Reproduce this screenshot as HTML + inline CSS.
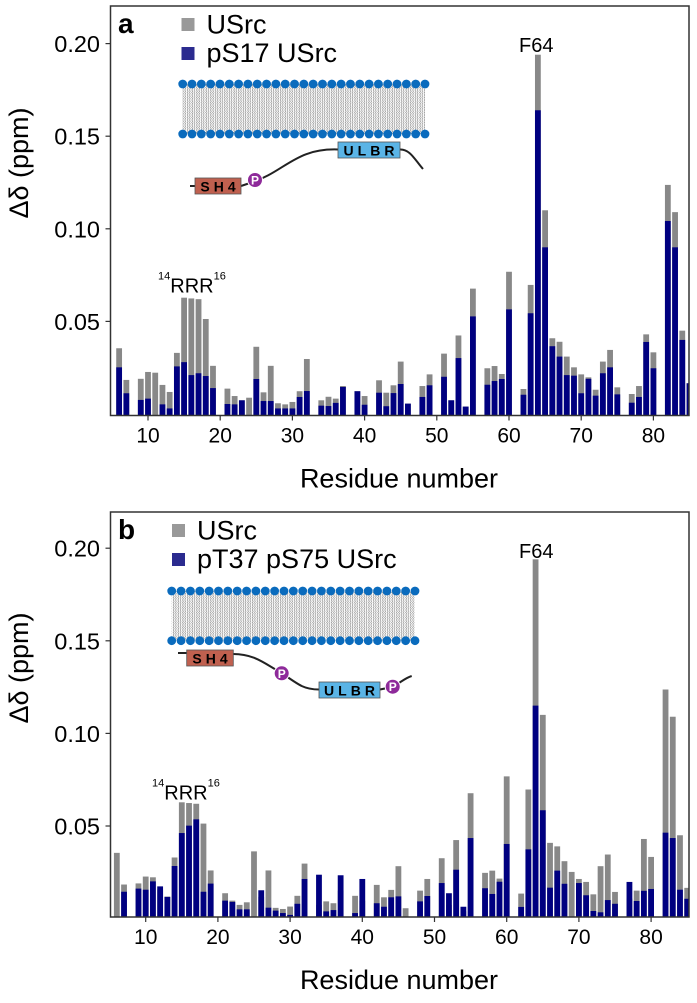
<!DOCTYPE html>
<html><head><meta charset="utf-8"><style>
html,body{margin:0;padding:0;background:#fff;}
svg{display:block;font-family:"Liberation Sans",Arial,sans-serif;}
</style></head><body>
<svg id="fig" width="697" height="1003" viewBox="0 0 697 1003" xmlns="http://www.w3.org/2000/svg">
<defs>
<pattern id="lip" width="4.65" height="5" patternUnits="userSpaceOnUse">
<polyline points="1,0 2.2,1.25 1,2.5 2.2,3.75 1,5" fill="none" stroke="#888" stroke-width="0.6"/>
<polyline points="3.3,0 4.4,1.25 3.3,2.5 4.4,3.75 3.3,5" fill="none" stroke="#888" stroke-width="0.6"/>
</pattern>
</defs>
<g id="panelA"></g>
<g id="panelB"></g>
</svg>
<script>
const residues = [6,7,8,9,10,11,12,13,14,15,16,17,18,19,20,21,22,23,24,25,26,27,28,29,30,31,32,33,34,35,36,37,38,39,40,41,42,43,44,45,46,47,48,49,50,51,52,53,54,55,56,57,58,59,60,61,62,63,64,65,66,67,68,69,70,71,72,73,74,75,76,77,78,79,80,81,82,83,84,85];
const usrc = [0.0355,0.0184,0,0.019,0.0227,0.0223,0.0157,0.0119,0.033,0.0628,0.0624,0.062,0.0513,0.026,0,0.0137,0.0097,0.0074,0.0088,0.0363,0.0117,0.026,0.0058,0.0052,0.0065,0.0123,0.0297,0,0.0074,0.0093,0.0083,0.0151,0,0.0123,0.0097,0,0.0182,0.0115,0.0155,0.0283,0.0056,0,0.0151,0.0214,0,0.0326,0.0074,0.0424,0.004,0.0677,0,0.0247,0.0259,0.0216,0.0768,0,0.0135,0.0697,0.194,0.110,0.0409,0.039,0.031,0.0252,0.0214,0.0198,0.0131,0.0283,0.0346,0.0144,0,0.0108,0.0151,0.043,0.0333,0,0.1237,0.109,0.045,0.0166];
const pS17 = [0.0252,0.0112,0,0.0076,0.0083,0,0.0052,0.003,0.0257,0.028,0.021,0.022,0.0205,0.014,0,0.0054,0.0052,0.0074,0,0.0189,0.007,0.007,0.003,0.003,0.003,0.0092,0.0124,0,0.0045,0.0043,0.006,0.0146,0,0.0123,0.005,0,0.0115,0.0042,0.0113,0.0162,0.0056,0,0.0092,0.0155,0,0.0201,0.0074,0.0302,0.004,0.0527,0,0.0158,0.0178,0.0189,0.0565,0,0.0104,0.0544,0.164,0.090,0.0366,0.031,0.021,0.0207,0.0112,0.019,0.0099,0.022,0.0252,0.0106,0,0.0061,0.0092,0.0389,0.0247,0,0.1042,0.090,0.040,0.0166];
const pT37pS75 = [0,0.0145,0,0.0162,0.0156,0.0201,0.0174,0.0117,0.0284,0.0462,0.0502,0.0536,0.0145,0.0189,0,0.0097,0.009,0.005,0.005,0,0.0153,0.0059,0.0043,0.003,0.002,0.008,0.0214,0,0.0237,0.0039,0.0046,0.0234,0,0.003,0.0214,0,0.0083,0.0064,0.0115,0.012,0,0,0.0093,0.0122,0,0.0192,0.0137,0.0264,0.0064,0.0435,0,0.0164,0.0133,0.0199,0.0403,0,0.0063,0.0374,0.115,0.0585,0.0167,0.0259,0.0188,0,0.0192,0.0126,0.0041,0.0034,0.01,0.008,0,0.0198,0.0095,0.015,0.016,0,0.0464,0.0435,0.0156,0.0107];
const xTicks = [10,20,30,40,50,60,70,80];
const yTicks = [0.05,0.10,0.15,0.20];
const yTickLabels = ["0.05","0.10","0.15","0.20"];

const NS = "http://www.w3.org/2000/svg";
function mk(parent, tag, attrs, text){
  const e = document.createElementNS(NS, tag);
  for (const k in attrs) e.setAttribute(k, attrs[k]);
  if (text !== undefined) e.textContent = text;
  parent.appendChild(e);
  return e;
}

function drawPanel(g, cfg){
  const L = 110.5, R = 689, T = cfg.top, B = cfg.bottom;
  const xS = r => cfg.x60 + (r - 60) * 7.22;
  const yS = v => cfg.y0 - v * 1852;
  const clip = mk(g, 'clipPath', {id: 'clip' + cfg.id});
  mk(clip, 'rect', {x: L, y: T, width: R - L, height: B - T});
  const bars = mk(g, 'g', {'clip-path': 'url(#clip' + cfg.id + ')'});
  
  
  residues.forEach((r, i) => {
    const x = xS(r) - 2.9;
    const gv = usrc[i], bv = cfg.blue[i];
    if (gv > 0) {
      const e = mk(bars, 'rect', {x: x, y: yS(gv), width: 5.8, height: Math.max(0, B - yS(gv)), fill: '#888888'});
      
      
    }
    if (bv > 0) {
      const e = mk(bars, 'rect', {x: x, y: yS(bv), width: 5.8, height: Math.max(0, B - yS(bv)), fill: '#000080'});
      
      
    }
  });
  const frame = mk(g, 'rect', {x: L, y: T, width: R - L, height: B - T, fill: 'none', stroke: '#333', 'stroke-width': 1.5});
  
  
  xTicks.forEach(t => {
    const x = xS(t);
    const tk = mk(g, 'line', {x1: x, x2: x, y1: B, y2: B + 5, stroke: '#333', 'stroke-width': 1.2});
    
    
    const lb = mk(g, 'text', {x: x, y: B + 27, 'font-size': 21, 'text-anchor': 'middle', fill: '#000'}, String(t));
    
    
  });
  yTicks.forEach((t, i) => {
    const y = yS(t);
    const tk = mk(g, 'line', {x1: L - 5, x2: L, y1: y, y2: y, stroke: '#333', 'stroke-width': 1.2});
    
    
    const lb = mk(g, 'text', {x: 100, y: y + 8.5, 'font-size': 23.5, 'text-anchor': 'end', fill: '#000'}, yTickLabels[i]);
    
    
  });
  const xt = mk(g, 'text', {x: 399, y: B + 72, 'font-size': 27, 'text-anchor': 'middle'}, 'Residue number');
  
  
  const cy = cfg.ycenter;
  const yt = mk(g, 'text', {x: 0, y: 0, 'font-size': 27, 'text-anchor': 'middle', transform: 'translate(28,' + cy + ') rotate(-90)'}, 'Δδ (ppm)');
  
  
  const pl = mk(g, 'text', {x: 118, y: T + 27, 'font-size': 28, 'font-weight': 'bold'}, cfg.letter);
  
  
  const lg = mk(g, 'g', {});
  
  
  mk(lg, 'rect', {x: cfg.legX, y: T + 12, width: 13, height: 13, fill: '#999'});
  mk(lg, 'text', {x: cfg.legX + 25, y: T + 27.5, 'font-size': 27}, 'USrc');
  mk(lg, 'rect', {x: cfg.legX, y: T + 41, width: 13, height: 13, fill: '#2b2b8f'});
  mk(lg, 'text', {x: cfg.legX + 25, y: T + 56, 'font-size': 27}, cfg.legend2);
  const rr = mk(g, 'text', {x: cfg.rrrX, y: cfg.rrrY, 'font-size': 20});
  
  
  mk(rr, 'tspan', {'font-size': 11, dy: -13}, '14');
  mk(rr, 'tspan', {dy: 13}, 'RRR');
  mk(rr, 'tspan', {'font-size': 11, dy: -13}, '16');
  const f = mk(g, 'text', {x: 519, y: T + 46, 'font-size': 20}, 'F64');
  
  
  const m = mk(g, 'g', {});
  
  
  const mx0 = cfg.memX0, mx1 = cfg.memX1, my0 = cfg.memY0, my1 = cfg.memY1;
  mk(m, 'rect', {x: mx0, y: my0, width: mx1 - mx0, height: my1 - my0, fill: 'url(#lip)'});
  const n = 27, step = (mx1 - mx0) / (n - 1);
  for (let k = 0; k < n; k++) {
    mk(m, 'circle', {cx: mx0 + k * step, cy: my0, r: 4.4, fill: '#0a6bbd'});
    mk(m, 'circle', {cx: mx0 + k * step, cy: my1, r: 4.4, fill: '#0a6bbd'});
  }
  mk(m, 'path', {d: cfg.chain, fill: 'none', stroke: '#222', 'stroke-width': 2});
  function box(x, y, w, h, fill, label, name){
    const bg = mk(m, 'g', {});
    
    
    mk(bg, 'rect', {x: x, y: y, width: w, height: h, fill: fill, stroke: '#555', 'stroke-width': 0.8});
    mk(bg, 'text', {x: x + w / 2 + 2, y: y + h - 2.5, 'font-size': 14, 'font-weight': 'bold', 'text-anchor': 'middle', 'letter-spacing': 4}, label);
  }
  box(cfg.sh4[0], cfg.sh4[1], cfg.sh4[2], 16, '#c0604f', 'SH4', 'sh4-domain');
  box(cfg.ulbr[0], cfg.ulbr[1], cfg.ulbr[2], 16, '#5ab4e6', 'ULBR', 'ulbr-domain');
  cfg.ps.forEach(p => {
    const pg = mk(m, 'g', {});
    
    
    mk(pg, 'circle', {cx: p[0], cy: p[1], r: 7.5, fill: '#8e2a9a', stroke: '#fff', 'stroke-width': 1});
    mk(pg, 'text', {x: p[0], y: p[1] + 4.5, 'font-size': 12, 'font-weight': 'bold', fill: '#fff', 'text-anchor': 'middle'}, 'P');
  });
}

drawPanel(document.getElementById('panelA'), {
  id: 'A', top: 6, bottom: 415.5, x60: 509, y0: 414, ycenter: 163, letter: 'a',
  blue: pS17, legend2: 'pS17 USrc', legX: 181.5,
  rrrX: 158, rrrY: 292.5,
  memX0: 182.7, memX1: 425, memY0: 84, memY1: 134,
  chain: 'M190,186 L196,186 M241,186 L250,183 C285,172 295,148 338,149.5 M400,149.5 C410,149 415,160 423,169',
  sh4: [195, 178, 46], ulbr: [338, 142, 62], ps: [[255, 180]]
});
drawPanel(document.getElementById('panelB'), {
  id: 'B', top: 512, bottom: 917, x60: 506.7, y0: 918.6, ycenter: 668, letter: 'b',
  blue: pT37pS75, legend2: 'pT37 pS75 USrc', legX: 172,
  rrrX: 152, rrrY: 799.3,
  memX0: 171.7, memX1: 415, memY0: 591, memY1: 640.7,
  chain: 'M178,653 L187,653 M233,654 C255,654 265,664 281.7,673 C300,686 305,689.5 319,689.5 M380,689.5 L392,687 M392,687 C400,683 405,678 411.7,676',
  sh4: [186.7, 650, 46.6], ulbr: [319, 682, 61], ps: [[281.7, 673.3], [392.7, 686.7]]
});
</script>
</body></html>
